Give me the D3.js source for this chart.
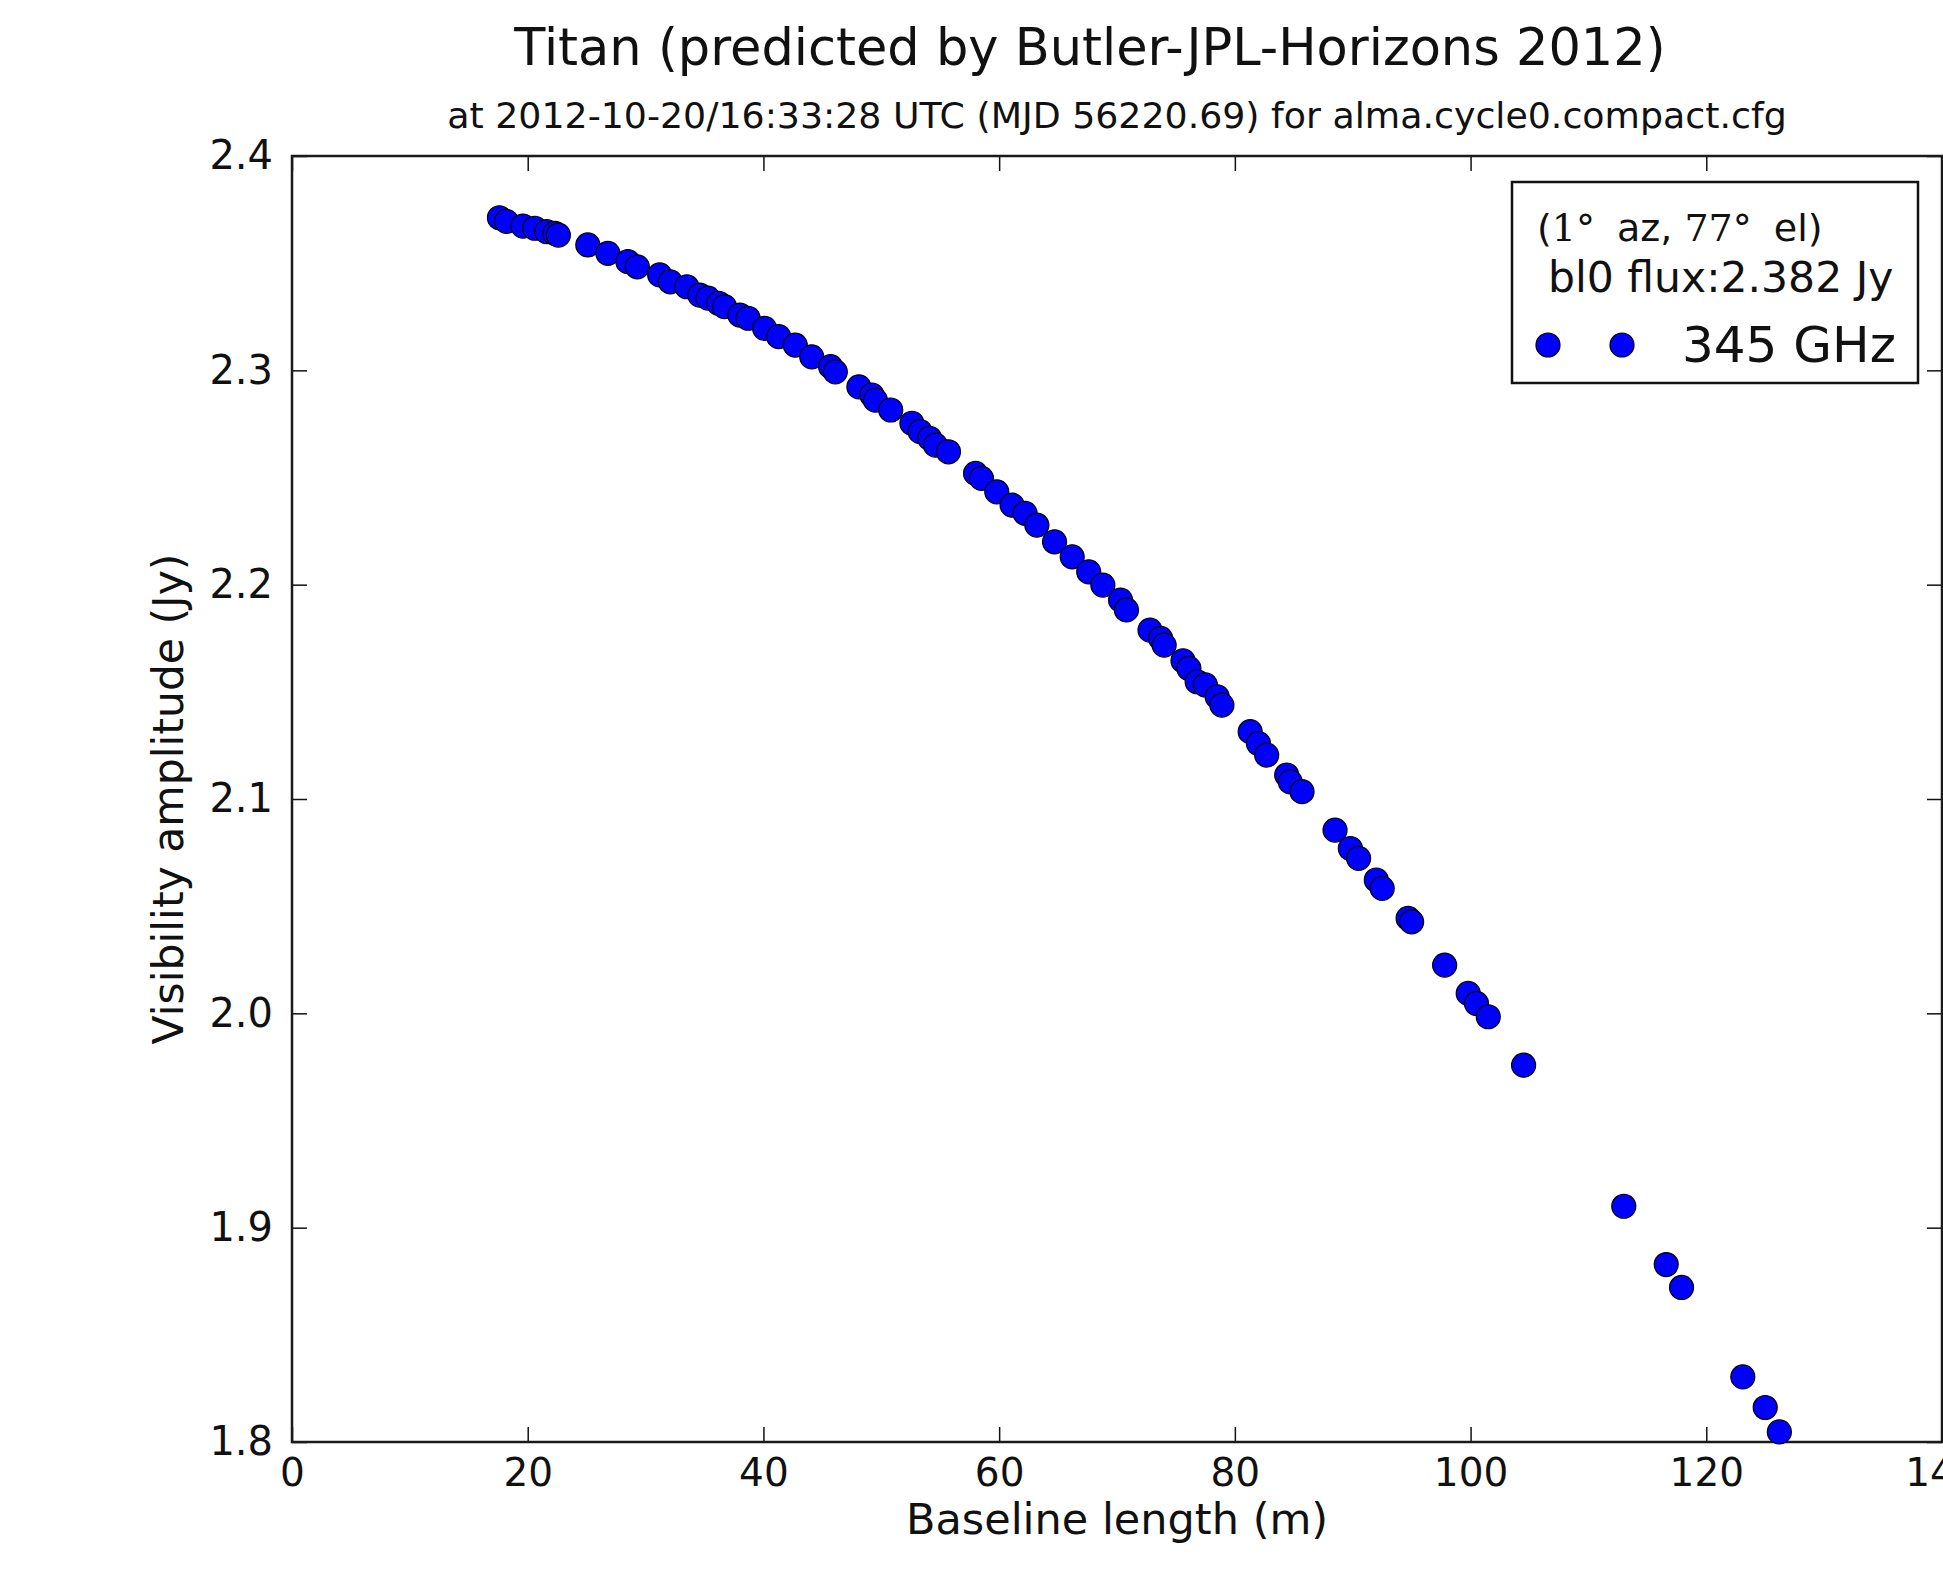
<!DOCTYPE html>
<html>
<head>
<meta charset="utf-8">
<script src="https://cdn.jsdelivr.net/npm/d3@7"></script>
<style>
  html, body { margin: 0; padding: 0; background: #fff; }
  svg { display: block; font-family: "DejaVu Sans", sans-serif; }
</style>
</head>
<body>
<svg id="chart"></svg>
<script>
// baseline length (m) and visibility amplitude (Jy)
const baselineM = [
  17.6, 18.2, 19.6, 20.6, 21.6, 22.3, 22.6, 25.1, 26.8, 28.5,
  29.3, 31.2, 32.1, 33.5, 34.6, 35.3, 36.2, 36.7, 38.0, 38.7,
  40.1, 41.3, 42.7, 44.1, 45.7, 46.1, 48.1, 49.2, 49.5, 50.8,
  52.6, 53.3, 54.1, 54.6, 55.7, 58.0, 58.5, 59.8, 61.1, 62.2,
  63.2, 64.7, 66.2, 67.6, 68.8, 70.3, 70.8, 72.8, 73.7, 74.0,
  75.6, 76.1, 76.8, 77.5, 78.5, 78.9, 81.3, 82.0, 82.7, 84.4,
  84.7, 85.7, 88.5, 89.8, 90.5, 92.0, 92.5, 94.7, 95.0, 97.8,
  99.8, 100.5, 101.5, 104.5, 113.0, 116.6, 117.9, 123.1, 125.0, 126.2
];
const amplitudeJy = [
  2.3712, 2.3695, 2.3673, 2.3663, 2.3647, 2.3639, 2.3631, 2.3585, 2.3546, 2.3507,
  2.3483, 2.3445, 2.3413, 2.3390, 2.3351, 2.3337, 2.3313, 2.3297, 2.3258, 2.3243,
  2.3196, 2.3157, 2.3118, 2.3063, 2.3017, 2.2993, 2.2923, 2.2885, 2.2861, 2.2815,
  2.2753, 2.2714, 2.2683, 2.2651, 2.2620, 2.2519, 2.2496, 2.2433, 2.2371, 2.2333,
  2.2278, 2.2200, 2.2130, 2.2060, 2.1998, 2.1928, 2.1882, 2.1788, 2.1749, 2.1718,
  2.1645, 2.1609, 2.1547, 2.1532, 2.1477, 2.1438, 2.1314, 2.1259, 2.1205, 2.1112,
  2.1080, 2.1034, 2.0855, 2.0769, 2.0723, 2.0622, 2.0583, 2.0443, 2.0427, 2.0225,
  2.0093, 2.0046, 1.9984, 1.9758, 1.9100, 1.8828, 1.8721, 1.8304, 1.8161, 1.8047
];
const xTicks = [0, 20, 40, 60, 80, 100, 120, 140];
const yTicks = [1.8, 1.9, 2.0, 2.1, 2.2, 2.3, 2.4];

const titleText = 'Titan (predicted by Butler-JPL-Horizons 2012)';
const subtitleText = 'at 2012-10-20/16:33:28 UTC (MJD 56220.69) for alma.cycle0.compact.cfg';
const xLabel = 'Baseline length (m)';
const yLabel = 'Visibility amplitude (Jy)';
const legendLine2 = 'bl0 flux:2.382 Jy';
const legendSeries = '345 GHz';

const totalWidth = 1943;
const totalHeight = 1569;
const margin = { top: 156, right: 1, bottom: 127, left: 292 };
const width = totalWidth - margin.left - margin.right;
const height = totalHeight - margin.top - margin.bottom;
const TICK = 15;
const R = 12;
const BLUE = '#0000ff';

const svg = d3.select('#chart')
  .attr('width', totalWidth)
  .attr('height', totalHeight);

svg.append('rect')
  .attr('width', totalWidth)
  .attr('height', totalHeight)
  .attr('fill', '#fff');

const xScale = d3.scaleLinear([0, 140], [0, width]);
const yScale = d3.scaleLinear([1.8, 2.4], [height, 0]);

const plot = svg.append('g')
  .attr('transform', `translate(${margin.left}, ${margin.top})`);

/* axes, ticks pointing inward on all four sides */
function styleAxis(g, fontSize) {
  g.select('.domain').remove();
  g.selectAll('.tick line').attr('stroke', '#111').attr('stroke-width', 1.5);
  g.selectAll('.tick text')
    .attr('fill', '#111')
    .attr('font-size', fontSize)
    .attr('font-family', 'DejaVu Sans');
}

plot.append('g')
  .attr('transform', `translate(0, ${height})`)
  .call(d3.axisBottom(xScale).tickValues(xTicks).tickSizeInner(-TICK).tickSizeOuter(0).tickPadding(16))
  .call(g => styleAxis(g, 39));

plot.append('g')
  .call(d3.axisTop(xScale).tickValues(xTicks).tickSizeInner(-TICK).tickSizeOuter(0).tickFormat(''))
  .call(g => styleAxis(g, 39));

plot.append('g')
  .call(d3.axisLeft(yScale).tickValues(yTicks).tickSizeInner(-TICK).tickSizeOuter(0)
    .tickPadding(19).tickFormat(d3.format('.1f')))
  .call(g => styleAxis(g, 40));

plot.append('g')
  .attr('transform', `translate(${width}, 0)`)
  .call(d3.axisRight(yScale).tickValues(yTicks).tickSizeInner(-TICK).tickSizeOuter(0).tickFormat(''))
  .call(g => styleAxis(g, 39));

/* frame */
plot.append('rect')
  .attr('x', 0)
  .attr('y', 0)
  .attr('width', width)
  .attr('height', height)
  .attr('fill', 'none')
  .attr('stroke', '#1a1a1a')
  .attr('stroke-width', 2.5);

/* points */
const points = baselineM.map((b, i) => ({ b, a: amplitudeJy[i] }));
plot.append('g')
  .selectAll('circle')
  .data(points)
  .enter()
  .append('circle')
  .attr('cx', d => xScale(d.b))
  .attr('cy', d => yScale(d.a))
  .attr('r', R)
  .attr('fill', BLUE)
  .attr('stroke', '#000')
  .attr('stroke-width', 1.2);

/* titles */
svg.append('text')
  .attr('x', 1090)
  .attr('y', 65)
  .attr('text-anchor', 'middle')
  .attr('font-size', 51)
  .attr('fill', '#111')
  .text(titleText);

svg.append('text')
  .attr('x', margin.left + width / 2)
  .attr('y', 128)
  .attr('text-anchor', 'middle')
  .attr('font-size', 36.3)
  .attr('fill', '#111')
  .text(subtitleText);

svg.append('text')
  .attr('x', margin.left + width / 2)
  .attr('y', 1534)
  .attr('text-anchor', 'middle')
  .attr('font-size', 43)
  .attr('fill', '#111')
  .text(xLabel);

svg.append('text')
  .attr('transform', `translate(183, ${margin.top + height / 2}) rotate(-90)`)
  .attr('text-anchor', 'middle')
  .attr('font-size', 42.5)
  .attr('fill', '#111')
  .text(yLabel);

/* legend */
const legend = svg.append('g');
legend.append('rect')
  .attr('x', 1512)
  .attr('y', 182)
  .attr('width', 406)
  .attr('height', 201)
  .attr('fill', '#fff')
  .attr('stroke', '#111')
  .attr('stroke-width', 2.5);

const line1 = legend.append('text')
  .attr('x', 1537)
  .attr('y', 241)
  .attr('font-size', 38)
  .attr('fill', '#111');
line1.append('tspan').text('(');
line1.append('tspan').attr('font-family', 'DejaVu Serif').text('1°');
line1.append('tspan').attr('dx', 22).text('az, ');
line1.append('tspan').attr('font-family', 'DejaVu Serif').text('77°');
line1.append('tspan').attr('dx', 22).text('el)');

legend.append('text')
  .attr('x', 1548)
  .attr('y', 292)
  .attr('font-size', 42.5)
  .attr('fill', '#111')
  .text(legendLine2);

legend.selectAll('.legend-dot')
  .data([1548, 1622])
  .enter()
  .append('circle')
  .attr('class', 'legend-dot')
  .attr('cx', d => d)
  .attr('cy', 345)
  .attr('r', R)
  .attr('fill', BLUE)
  .attr('stroke', '#000')
  .attr('stroke-width', 1.2);

legend.append('text')
  .attr('x', 1682)
  .attr('y', 362)
  .attr('font-size', 50)
  .attr('fill', '#111')
  .text(legendSeries);
</script>
</body>
</html>
